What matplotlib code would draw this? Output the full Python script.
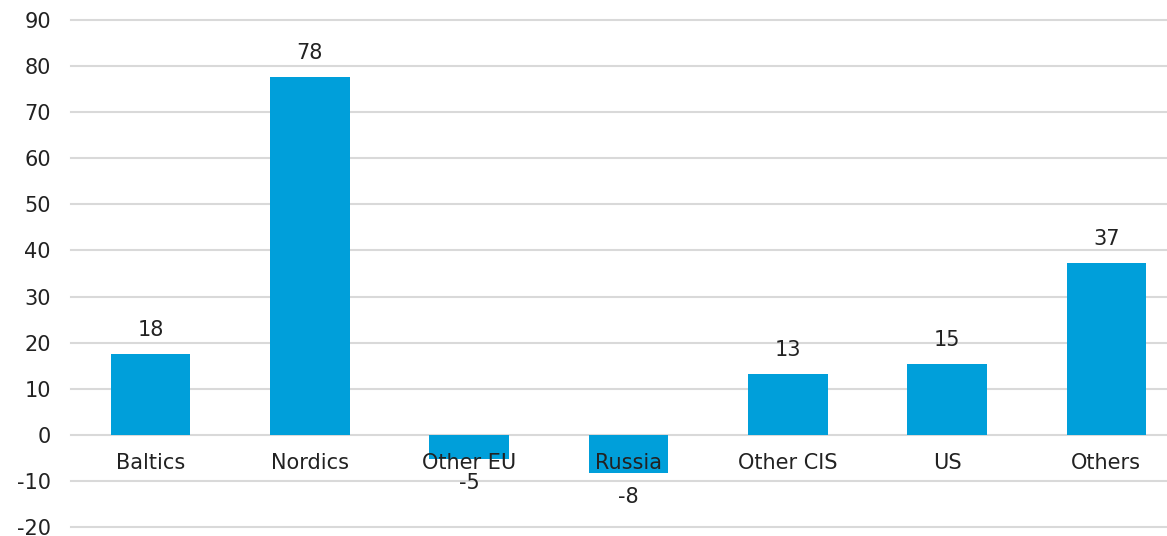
import matplotlib
matplotlib.use("Agg")
import matplotlib.pyplot as plt

categories = ["Baltics", "Nordics", "Other EU", "Russia", "Other CIS", "US", "Others"]
values = [17.6, 77.6, -5.2, -8.2, 13.1, 15.4, 37.3]
yticks = [-20, -10, 0, 10, 20, 30, 40, 50, 60, 70, 80, 90]

W, H = 1167, 536
fig = plt.figure(figsize=(W / 100, H / 100), dpi=100)
left = 71 / W
right = 1186 / W
bottom = 1 - 527 / H
top = 1 - 20 / H
ax = fig.add_axes([left, bottom, right - left, top - bottom])

plt.rcParams['font.family'] = ['DejaVu Sans']
txt_color = "#222222"
fs = 15

x = list(range(len(categories)))
ax.bar(x, values, width=0.5, color="#009fda", zorder=3)

ax.set_xlim(-0.5, len(categories) - 0.5)
ax.set_ylim(-20, 90)
ax.set_yticks(yticks)
ax.set_yticklabels([str(t) for t in yticks], fontsize=fs, color=txt_color)
ax.tick_params(axis='y', length=0, pad=14.5)
ax.set_xticks([])
ax.grid(axis='y', color="#d9d9d9", linewidth=1.5, zorder=0)
ax.set_axisbelow(True)
for gl in ax.get_ygridlines():
    gl.set_clip_on(False)
for s in ax.spines.values():
    s.set_visible(False)

for xi, v, c in zip(x, values, categories):
    off = 24 if v >= 0 else -24
    ax.annotate(f"{v:.0f}", xy=(xi, v), xytext=(0, off * 0.72), textcoords="offset points",
                ha="center", va="center", fontsize=fs, color=txt_color, zorder=5)
    ax.annotate(c, xy=(xi, 0), xytext=(0, -28 * 0.72), textcoords="offset points",
                ha="center", va="center", fontsize=fs, color=txt_color, zorder=5)

fig.savefig("out.png", dpi=100)
